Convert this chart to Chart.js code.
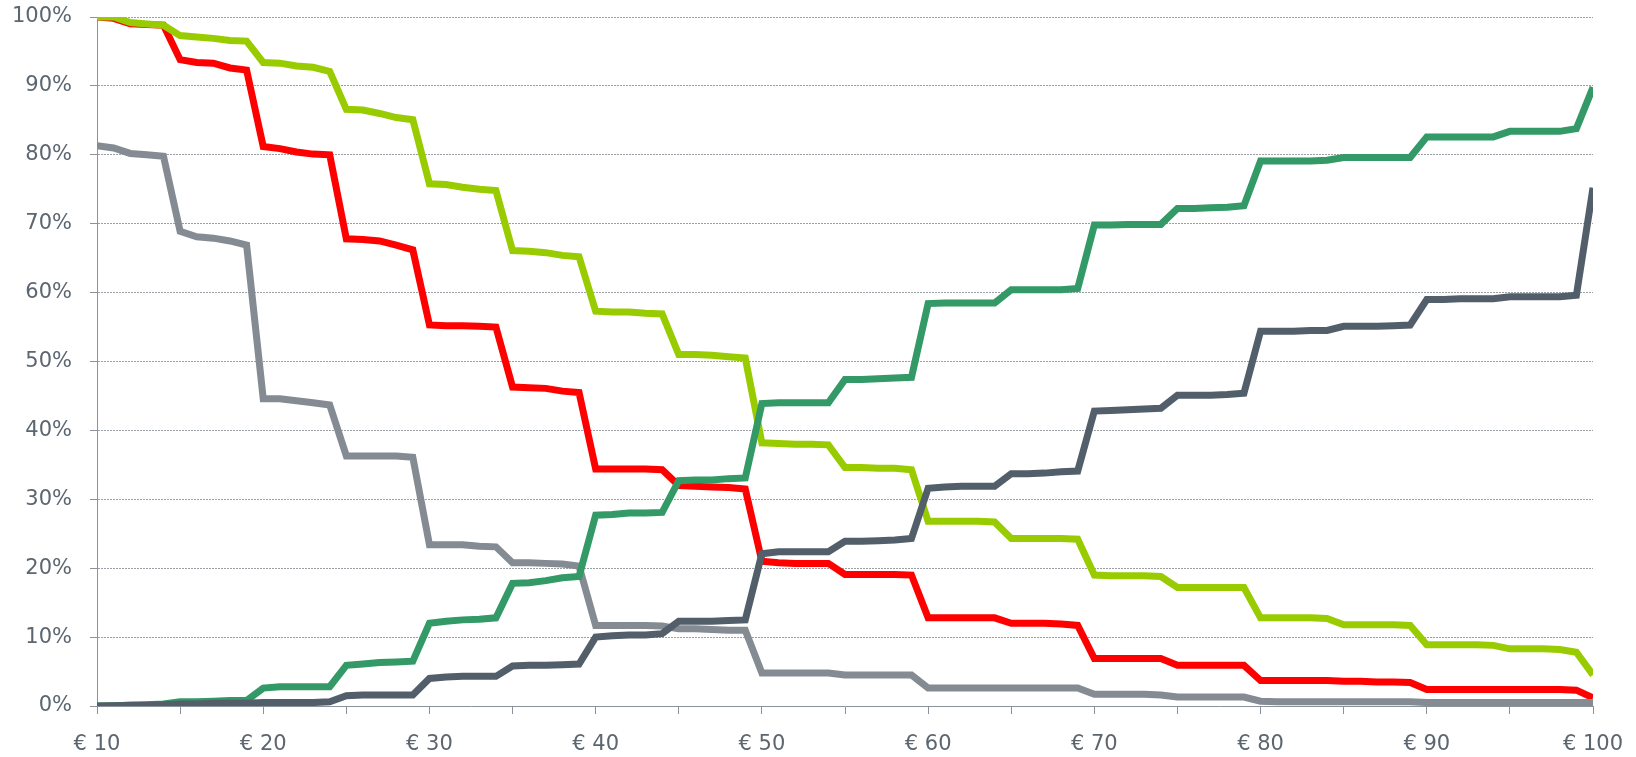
<!DOCTYPE html>
<html>
<head>
<meta charset="utf-8">
<script src="https://cdn.jsdelivr.net/npm/chart.js@4/dist/chart.umd.min.js"></script>
<style>
  body { margin: 0; background: #fff; }
  canvas { display: block; }
</style>
</head>
<body>
<canvas id="chart" width="1636" height="757"></canvas>
<script>
// price points (euro)
var prices = [10, 11, 12, 13, 14, 15, 16, 17, 18, 19,
  20, 21, 22, 23, 24, 25, 26, 27, 28, 29,
  30, 31, 32, 33, 34, 35, 36, 37, 38, 39,
  40, 41, 42, 43, 44, 45, 46, 47, 48, 49,
  50, 51, 52, 53, 54, 55, 56, 57, 58, 59,
  60, 61, 62, 63, 64, 65, 66, 67, 68, 69,
  70, 71, 72, 73, 74, 75, 76, 77, 78, 79,
  80, 81, 82, 83, 84, 85, 86, 87, 88, 89,
  90, 91, 92, 93, 94, 95, 96, 97, 98, 99, 100];

var lightGreen = [100, 100, 99.2, 99, 98.8, 97.3, 97.1, 96.9, 96.6, 96.5,
  93.4, 93.3, 92.9, 92.7, 92.1, 86.6, 86.5, 86.0, 85.4, 85.1,
  75.8, 75.7, 75.3, 75.0, 74.8, 66.1, 66.0, 65.8, 65.4, 65.2,
  57.3, 57.2, 57.2, 57.0, 56.9, 51.0, 51.0, 50.9, 50.7, 50.5,
  38.2, 38.1, 38.0, 38.0, 37.9, 34.6, 34.6, 34.5, 34.5, 34.3,
  26.8, 26.8, 26.8, 26.8, 26.7, 24.3, 24.3, 24.3, 24.3, 24.2,
  19.0, 18.9, 18.9, 18.9, 18.8, 17.2, 17.2, 17.2, 17.2, 17.2,
  12.8, 12.8, 12.8, 12.8, 12.7, 11.8, 11.8, 11.8, 11.8, 11.7,
  8.9, 8.9, 8.9, 8.9, 8.8, 8.3, 8.3, 8.3, 8.2, 7.8, 4.5];

var red = [100, 99.8, 99.0, 98.9, 98.8, 93.8, 93.4, 93.3, 92.6, 92.3,
  81.2, 80.9, 80.4, 80.1, 80.0, 67.8, 67.7, 67.5, 66.9, 66.2,
  55.3, 55.2, 55.2, 55.1, 55.0, 46.3, 46.2, 46.1, 45.7, 45.5,
  34.4, 34.4, 34.4, 34.4, 34.3, 32.0, 31.9, 31.8, 31.7, 31.5,
  21.0, 20.8, 20.7, 20.7, 20.7, 19.1, 19.1, 19.1, 19.1, 19.0,
  12.8, 12.8, 12.8, 12.8, 12.8, 12.0, 12.0, 12.0, 11.9, 11.7,
  6.9, 6.9, 6.9, 6.9, 6.9, 5.9, 5.9, 5.9, 5.9, 5.9,
  3.7, 3.7, 3.7, 3.7, 3.7, 3.6, 3.6, 3.5, 3.5, 3.4,
  2.4, 2.4, 2.4, 2.4, 2.4, 2.4, 2.4, 2.4, 2.4, 2.3, 1.2];

var lightGray = [81.3, 81.0, 80.2, 80.0, 79.8, 68.9, 68.1, 67.9, 67.5, 66.9,
  44.6, 44.6, 44.3, 44.0, 43.7, 36.3, 36.3, 36.3, 36.3, 36.1,
  23.4, 23.4, 23.4, 23.2, 23.1, 20.8, 20.8, 20.7, 20.6, 20.3,
  11.7, 11.7, 11.7, 11.7, 11.6, 11.2, 11.2, 11.1, 11.0, 11.0,
  4.8, 4.8, 4.8, 4.8, 4.8, 4.5, 4.5, 4.5, 4.5, 4.5,
  2.6, 2.6, 2.6, 2.6, 2.6, 2.6, 2.6, 2.6, 2.6, 2.6,
  1.7, 1.7, 1.7, 1.7, 1.6, 1.3, 1.3, 1.3, 1.3, 1.3,
  0.7, 0.6, 0.6, 0.6, 0.6, 0.6, 0.6, 0.6, 0.6, 0.6,
  0.5, 0.5, 0.5, 0.5, 0.5, 0.5, 0.5, 0.5, 0.5, 0.5, 0.5];

var darkGreen = [0, 0.05, 0.1, 0.2, 0.3, 0.6, 0.6, 0.7, 0.8, 0.8,
  2.6, 2.8, 2.8, 2.8, 2.8, 5.9, 6.1, 6.3, 6.4, 6.5,
  12.0, 12.3, 12.5, 12.6, 12.8, 17.8, 17.9, 18.2, 18.6, 18.8,
  27.7, 27.8, 28.0, 28.0, 28.1, 32.7, 32.8, 32.8, 33.0, 33.1,
  43.9, 44.0, 44.0, 44.0, 44.0, 47.4, 47.4, 47.5, 47.6, 47.7,
  58.4, 58.5, 58.5, 58.5, 58.5, 60.4, 60.4, 60.4, 60.4, 60.6,
  69.8, 69.8, 69.9, 69.9, 69.9, 72.2, 72.2, 72.3, 72.4, 72.6,
  79.1, 79.1, 79.1, 79.1, 79.2, 79.6, 79.6, 79.6, 79.6, 79.6,
  82.6, 82.6, 82.6, 82.6, 82.6, 83.4, 83.4, 83.4, 83.4, 83.8, 89.8];

var darkSlate = [0, 0.05, 0.1, 0.1, 0.2, 0.3, 0.3, 0.4, 0.4, 0.4,
  0.5, 0.5, 0.5, 0.5, 0.6, 1.5, 1.6, 1.6, 1.6, 1.6,
  4.0, 4.2, 4.3, 4.3, 4.3, 5.8, 5.9, 5.9, 6.0, 6.1,
  10.0, 10.2, 10.3, 10.3, 10.5, 12.3, 12.3, 12.3, 12.4, 12.5,
  22.1, 22.4, 22.4, 22.4, 22.4, 23.9, 23.9, 24.0, 24.1, 24.3,
  31.6, 31.8, 31.9, 31.9, 31.9, 33.7, 33.7, 33.8, 34.0, 34.1,
  42.8, 42.9, 43.0, 43.1, 43.2, 45.1, 45.1, 45.1, 45.2, 45.4,
  54.4, 54.4, 54.4, 54.5, 54.5, 55.1, 55.1, 55.1, 55.2, 55.3,
  59.0, 59.0, 59.1, 59.1, 59.1, 59.4, 59.4, 59.4, 59.4, 59.6, 75.2];

var yTicks = [0, 10, 20, 30, 40, 50, 60, 70, 80, 90, 100];

function points(vals) {
    return prices.map(function(p, i) { return {x: p, y: vals[i]}; });
}

function line(vals, colour, order) {
    return {
        data: points(vals),
        borderColor: colour,
        backgroundColor: colour,
        borderWidth: 7,
        pointRadius: 0,
        tension: 0,
        fill: false,
        order: order
    };
}

var axisColour = '#8a929b';
var textColour = '#5b6670';
var font = { family: 'DejaVu Sans', size: 21 };

var ctx = document.getElementById('chart').getContext('2d');
var myChart = new Chart(ctx, {
    type: 'line',
    data: {
        datasets: [
            line(lightGreen, '#99cc00', 3),
            line(red, '#ff0000', 5),
            line(lightGray, '#848b93', 4),
            line(darkGreen, '#339966', 2),
            line(darkSlate, '#525e69', 1)
        ]
    },
    options: {
        responsive: false,
        animation: false,
        layout: { padding: { top: 17, right: 43, left: 12, bottom: 0 } },
        plugins: { legend: { display: false }, tooltip: { enabled: false } },
        scales: {
            x: {
                type: 'linear',
                min: 10,
                max: 100,
                afterFit: function(axis) {
                    axis.height = 51;
                    axis.paddingLeft = 0;
                    axis.paddingRight = 0;
                },
                border: { display: true, color: axisColour, width: 1 },
                grid: { drawOnChartArea: false, drawTicks: true, tickLength: 8, tickColor: axisColour },
                ticks: {
                    stepSize: 5,
                    autoSkip: false,
                    maxRotation: 0,
                    padding: 18,
                    color: textColour,
                    font: font,
                    callback: function(v) { return v % 10 === 0 ? '\u20ac ' + v : ''; }
                }
            },
            y: {
                min: 0,
                max: 100,
                afterFit: function(axis) {
                    axis.width = 85;
                    axis.paddingTop = 0;
                    axis.paddingBottom = 0;
                },
                afterBuildTicks: function(axis) {
                    axis.ticks = yTicks.map(function(v) { return {value: v}; });
                },
                border: { display: true, color: axisColour, width: 1, dash: [2, 1] },
                grid: {
                    color: function(c) { return c.tick && c.tick.value === 0 ? 'rgba(0,0,0,0)' : '#9aa0a6'; },
                    drawTicks: true,
                    tickLength: 7,
                    tickColor: axisColour
                },
                ticks: {
                    padding: 18,
                    color: textColour,
                    font: font,
                    callback: function(v) { return v + '%'; }
                }
            }
        }
    }
});
</script>
</body>
</html>
